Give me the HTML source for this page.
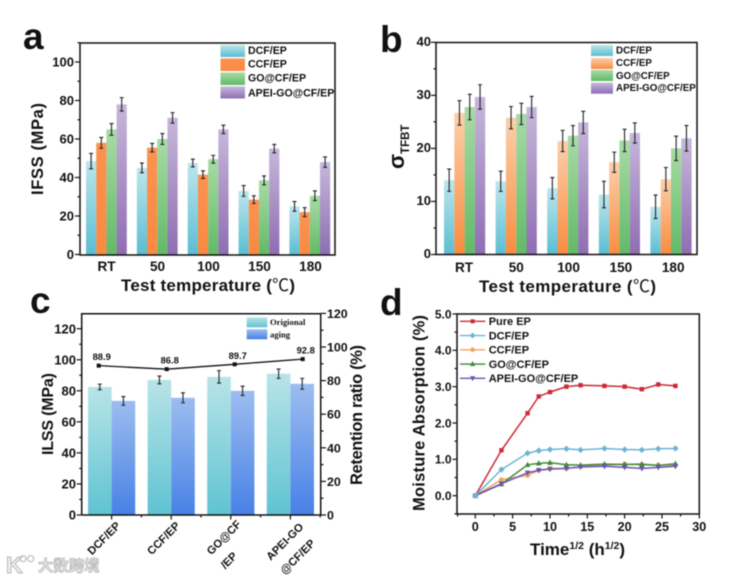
<!DOCTYPE html>
<html lang="en">
<head>
<meta charset="utf-8">
<title>Composite performance charts</title>
<style>
html,body{margin:0;padding:0;background:#fff;width:751px;height:580px;overflow:hidden}
svg{display:block;filter:blur(.5px)}
text{font-family:"Liberation Sans","Noto Sans CJK SC",sans-serif;font-weight:bold;fill:#111}
.frame{fill:none;stroke:#111;stroke-width:1.5}
.tick{stroke:#111;stroke-width:1.2}
.err{stroke:#22222b;stroke-width:1.1}
</style>
</head>
<body>
<svg id="figure" xmlns="http://www.w3.org/2000/svg" width="751" height="580" viewBox="0 0 751 580">
<defs>
<linearGradient id="gBlue" x1="0" y1="0" x2="0" y2="1"><stop offset="0" stop-color="#bde6ec"/><stop offset="1" stop-color="#5bbdd3"/></linearGradient>
<linearGradient id="gOrangeA" x1="0" y1="0" x2="0" y2="1"><stop offset="0" stop-color="#fb9350"/><stop offset="1" stop-color="#f98a42"/></linearGradient>
<linearGradient id="gOrangeB" x1="0" y1="0" x2="0" y2="1"><stop offset="0" stop-color="#fbd0ab"/><stop offset="1" stop-color="#f98c40"/></linearGradient>
<linearGradient id="gGreen" x1="0" y1="0" x2="0" y2="1"><stop offset="0" stop-color="#a8dba6"/><stop offset="1" stop-color="#62ba67"/></linearGradient>
<linearGradient id="gPurple" x1="0" y1="0" x2="0" y2="1"><stop offset="0" stop-color="#c6b8da"/><stop offset="1" stop-color="#8f6db2"/></linearGradient>
<linearGradient id="gTeal" x1="0" y1="0" x2="0" y2="1"><stop offset="0" stop-color="#b8e4e8"/><stop offset="1" stop-color="#5fc3d2"/></linearGradient>
<linearGradient id="gRoyal" x1="0" y1="0" x2="0" y2="1"><stop offset="0" stop-color="#9dbdf0"/><stop offset="1" stop-color="#4781e6"/></linearGradient>
</defs>

<g id="panel-a">
  <text x="23" y="49" font-size="37">a</text>
  <g id="a-marks"></g>
  <rect class="frame" x="80" y="43" width="255" height="212"/>
  <g id="a-axes"></g>
  <text transform="translate(43,195) rotate(-90)" font-size="16.5" textLength="92">IFSS (MPa)</text>
  <text x="121" y="291" font-size="17" textLength="174">Test temperature (<tspan font-weight="normal">℃</tspan>)</text>
  <g>
    <rect x="220.5" y="45" width="24.5" height="12" fill="url(#gBlue)"/>
    <rect x="220.5" y="58.5" width="24.5" height="12.5" fill="url(#gOrangeA)"/>
    <rect x="220.5" y="72.5" width="24.5" height="12.5" fill="url(#gGreen)"/>
    <rect x="220.5" y="86.5" width="24.5" height="12" fill="url(#gPurple)"/>
    <text x="248" y="54" font-size="10.6">DCF/EP</text>
    <text x="248" y="67.7" font-size="10.6">CCF/EP</text>
    <text x="248" y="81.7" font-size="10.6">GO@CF/EP</text>
    <text x="248" y="96.4" font-size="10.6">APEI-GO@CF/EP</text>
  </g>
</g>

<g id="panel-b">
  <text x="380" y="52" font-size="37">b</text>
  <g id="b-marks"></g>
  <rect class="frame" x="436" y="42.5" width="261" height="212"/>
  <g id="b-axes"></g>
  <text transform="translate(404,169) rotate(-90)" font-size="22">σ<tspan font-size="11.5" dy="5">TFBT</tspan></text>
  <text x="479" y="292" font-size="17" textLength="177">Test temperature (<tspan font-weight="normal">℃</tspan>)</text>
  <g>
    <rect x="591" y="45" width="22" height="11" fill="url(#gBlue)"/>
    <rect x="591" y="58" width="22" height="11" fill="url(#gOrangeB)"/>
    <rect x="591" y="70" width="22" height="11" fill="url(#gGreen)"/>
    <rect x="591" y="82.7" width="22" height="11" fill="url(#gPurple)"/>
    <text x="616" y="53.5" font-size="9.8">DCF/EP</text>
    <text x="616" y="66.2" font-size="9.8">CCF/EP</text>
    <text x="616" y="78.8" font-size="9.8">GO@CF/EP</text>
    <text x="616" y="91.2" font-size="9.8">APEI-GO@CF/EP</text>
  </g>
</g>

<g id="panel-c">
  <text x="30" y="313" font-size="37">c</text>
  <g id="c-marks"></g>
  <path class="frame" d="M81.7 515V313.7H320.7V515H81.7"/>
  <g id="c-axes"></g>
  <g id="c-line"></g>
  <text transform="translate(53,455) rotate(-90)" font-size="16" textLength="82">ILSS (MPa)</text>
  <text transform="translate(362,485) rotate(-90)" font-size="16.5" textLength="140">Retention ratio (%)</text>
  <g>
    <rect x="246.7" y="317.3" width="20.6" height="10" fill="url(#gTeal)"/>
    <rect x="246.7" y="329.3" width="20.6" height="10" fill="url(#gRoyal)"/>
    <text x="270" y="325" font-size="8.6" style="font-family:'Liberation Serif',serif">Origional</text>
    <text x="270" y="337.5" font-size="8.6" style="font-family:'Liberation Serif',serif">aging</text>
  </g>
</g>

<g id="panel-d">
  <text x="380" y="315" font-size="37">d</text>
  <rect class="frame" x="457" y="314" width="242.3" height="200"/>
  <g id="d-axes"></g>
  <g id="d-marks"></g>
  <text transform="translate(424.5,511) rotate(-90)" font-size="16.5" textLength="196">Moisture Absorption (%)</text>
  <text x="530" y="555" font-size="17">Time<tspan font-size="10.5" dy="-6">1/2</tspan><tspan dy="6"> (h</tspan><tspan font-size="10.5" dy="-6">1/2</tspan><tspan dy="6">)</tspan></text>
  <g id="d-legend"></g>
</g>

<g>
  <text x="6" y="573" font-size="23" style="fill:#f0f0f0;stroke:#b8b8b8;stroke-width:1">K</text>
  <circle cx="23" cy="558.7" r="3" fill="none" stroke="#bdbdbd" stroke-width="1.2"/>
  <circle cx="30.7" cy="558.7" r="3" fill="none" stroke="#bdbdbd" stroke-width="1.2"/>
  <text x="38" y="571" font-size="15.4" style="fill:#e6e6e6;stroke:#b5b5b5;stroke-width:.7">大数跨境</text>
</g>
</svg>

<script>
// Panel a: IFSS
const aCategories = ['RT', '50', '100', '150', '180'];
const aDcf = [48.5, 45, 47.5, 33, 25];
const aCcf = [58, 55.5, 41.5, 28.5, 22];
const aGo = [65, 60, 49.5, 38.5, 30.5];
const aApei = [78, 71, 65, 55, 48];
const aDcfErr = [4, 2.5, 2, 2.8, 2.5];
const aCcfErr = [2.8, 2.2, 2, 2, 2.3];
const aGoErr = [3, 2.8, 2, 2.3, 2.5];
const aApeiErr = [3.5, 2.7, 2.2, 2.2, 2.7];
const aTicks = [0, 20, 40, 60, 80, 100];

// Panel b: sigma TFBT
const bCategories = ['RT', '50', '100', '150', '180'];
const bDcf = [14, 13.8, 12.5, 11.3, 9];
const bCcf = [26.7, 25.8, 21.4, 17.4, 14.2];
const bGo = [27.8, 26.5, 22.4, 21.5, 20];
const bApei = [29.7, 27.8, 24.9, 22.9, 21.9];
const bDcfErr = [2.1, 1.9, 2, 2.5, 2.2];
const bCcfErr = [2.3, 2.1, 2, 1.9, 2.2];
const bGoErr = [2.4, 2, 1.9, 2.1, 2.3];
const bApeiErr = [2.3, 2, 2.1, 1.9, 2.4];
const bTicks = [0, 10, 20, 30, 40];

// Panel c: ILSS and retention
const cCategories = ['DCF/EP', 'CCF/EP', 'GO@CF\n/EP', 'APEI-GO\n@CF/EP'];
const cOriginal = [82.5, 87, 89, 91];
const cAging = [73.5, 75.5, 80, 84.5];
const cOriginalErr = [1.8, 2.5, 4, 3];
const cAgingErr = [2.8, 3.2, 3, 3.5];
const cRetention = [88.9, 86.8, 89.7, 92.8];
const cLeftTicks = [0, 20, 40, 60, 80, 100, 120];
const cRightTicks = [0, 20, 40, 60, 80, 100, 120];

// Panel d: moisture absorption
const dTime = [0, 3.5, 7, 8.5, 10, 12.2, 14.1, 17.3, 20, 22.3, 24.5, 26.8];
const dPure = [0, 1.25, 2.27, 2.73, 2.85, 3.0, 3.04, 3.02, 3.0, 2.93, 3.06, 3.02];
const dDcf = [0, 0.72, 1.17, 1.24, 1.27, 1.29, 1.26, 1.3, 1.27, 1.26, 1.29, 1.3];
const dCcf = [0, 0.44, 0.56, 0.7, 0.75, 0.75, 0.8, 0.84, 0.87, 0.85, 0.84, 0.84];
const dGo = [0, 0.32, 0.85, 0.89, 0.91, 0.85, 0.84, 0.87, 0.86, 0.87, 0.83, 0.88];
const dApei = [0, 0.33, 0.63, 0.7, 0.73, 0.75, 0.79, 0.81, 0.78, 0.75, 0.78, 0.81];
const dYTicks = [0, 1, 2, 3, 4, 5];
const dXTicks = [0, 5, 10, 15, 20, 25, 30];
const dSeriesNames = ['Pure EP', 'DCF/EP', 'CCF/EP', 'GO@CF/EP', 'APEI-GO@CF/EP'];

const NS = 'http://www.w3.org/2000/svg';
function make(tag, attrs, parent) {
  const el = document.createElementNS(NS, tag);
  for (const k in attrs) el.setAttribute(k, attrs[k]);
  parent.appendChild(el);
  return el;
}
function $(id) { return document.getElementById(id); }
function slug(s) { return String(s).toLowerCase().replace(/[^a-z0-9]+/g, '-').replace(/^-|-$/g, ''); }

function tickLine(parent, x1, y1, x2, y2) {
  const t = make('line', {class: 'tick', x1: x1, y1: y1, x2: x2, y2: y2}, parent);
  
  
}
function tickText(parent, str, x, y, size, anchor) {
  const t = make('text', {x: x, y: y, 'font-size': size, 'text-anchor': anchor}, parent);
  t.textContent = str;
  
  
}
function errorBar(parent, x, top, bottom, name) {
  const g = make('path', {class: 'err', fill: 'none',
    d: 'M' + (x - 2) + ' ' + top + 'H' + (x + 2) + 'M' + x + ' ' + top + 'V' + bottom + 'M' + (x - 2) + ' ' + bottom + 'H' + (x + 2)}, parent);
  
  
}
function bar(parent, x, w, y0, y, fill, name) {
  const r = make('rect', {x: x, y: y, width: w, height: y0 - y, fill: fill}, parent);
  
  
}

function groupedBars(marks, cats, series, errs, fills, names, yScale, start, step, w) {
  series.forEach(function (vals, s) {
    vals.forEach(function (v, i) {
      const x = start + i * step + s * w;
      bar(marks, x, w, yScale(0), yScale(v), fills[s], 'bar-' + names[s] + '-' + slug(cats[i]));
      errorBar(marks, x + w / 2, yScale(v + errs[s][i]), yScale(v - errs[s][i]), 'error-bar-' + names[s] + '-' + slug(cats[i]));
    });
  });
}
const barNames = ['dcf', 'ccf', 'go', 'apei'];

// ---- Panel a
const yA = v => 254.5 - v * 1.925;
groupedBars($('a-marks'), aCategories, [aDcf, aCcf, aGo, aApei], [aDcfErr, aCcfErr, aGoErr, aApeiErr],
  ['url(#gBlue)', 'url(#gOrangeA)', 'url(#gGreen)', 'url(#gPurple)'], barNames, yA, 86, 50.85, 10.2);
aTicks.forEach(function (v) {
  tickLine($('a-axes'), 75, yA(v), 80, yA(v));
  tickText($('a-axes'), v, 74, yA(v) + 4.7, 13, 'end');
  if (v < 100) tickLine($('a-axes'), 77.5, yA(v + 10), 80, yA(v + 10));
});
tickLine($('a-axes'), 77.5, yA(110), 80, yA(110));
aCategories.forEach(function (c, i) {
  tickText($('a-axes'), c, 106.5 + i * 51, 271, 13.6, 'middle');
});

// ---- Panel b
const yB = v => 254.5 - v * 5.305;
groupedBars($('b-marks'), bCategories, [bDcf, bCcf, bGo, bApei], [bDcfErr, bCcfErr, bGoErr, bApeiErr],
  ['url(#gBlue)', 'url(#gOrangeB)', 'url(#gGreen)', 'url(#gPurple)'], barNames, yB, 444, 51.6, 10.3);
bTicks.forEach(function (v) {
  tickLine($('b-axes'), 431, yB(v), 436, yB(v));
  tickText($('b-axes'), v, 431, yB(v) + 3.5, 13, 'end');
  if (v < 40) tickLine($('b-axes'), 433.5, yB(v + 5), 436, yB(v + 5));
});
bCategories.forEach(function (c, i) {
  tickText($('b-axes'), c, 464 + i * 52.3, 272, 13.6, 'middle');
});

// ---- Panel c
const yCL = v => 515 - v * 1.5525;
const yCR = v => 515 - v * 1.68;
const cCats = cCategories.map(c => c.replace('\n', ''));
groupedBars($('c-marks'), cCats, [cOriginal, cAging], [cOriginalErr, cAgingErr],
  ['url(#gTeal)', 'url(#gRoyal)'], ['original', 'aging'], yCL, 88, 59.6, 23.6);
const cxTick = i => 111.6 + i * 59.6;
const cxLine = i => 98.7 + i * 68;
cLeftTicks.forEach(function (v) {
  tickLine($('c-axes'), 76.7, yCL(v), 81.7, yCL(v));
  tickText($('c-axes'), v, 76, yCL(v) + 4.6, 13, 'end');
  if (v < 120) tickLine($('c-axes'), 79.2, yCL(v + 10), 81.7, yCL(v + 10));
});
cRightTicks.forEach(function (v) {
  tickLine($('c-axes'), 320.7, yCR(v), 326, yCR(v));
  tickText($('c-axes'), v, 327, yCR(v) + 4.5, 12.4, 'start');
  if (v < 120) tickLine($('c-axes'), 320.7, yCR(v + 10), 323.5, yCR(v + 10));
});
cCategories.forEach(function (c, i) {
  tickLine($('c-axes'), cxTick(i), 515, cxTick(i), 519.5);
  tickLine($('c-axes'), cxTick(i) + 29.8, 515, cxTick(i) + 29.8, 517.5);
  c.split('\n').forEach(function (part, n) {
    const bx = cxTick(i) - 19.6 + n * 14;
    const by = (i === 3 ? 561 : 555.5) + n * 14;
    const t = make('text', {transform: 'translate(' + bx + ',' + by + ') rotate(-45)', 'font-size': 11.2}, $('c-axes'));
    t.textContent = part;
    
    
  });
});
const retentionPath = make('path', {fill: 'none', stroke: '#111', 'stroke-width': 1.3,
  d: cRetention.map((v, i) => (i ? 'L' : 'M') + cxLine(i) + ' ' + yCR(v)).join('')}, $('c-line'));


cRetention.forEach(function (v, i) {
  const m = make('rect', {x: cxLine(i) - 2, y: yCR(v) - 2, width: 4, height: 4, fill: '#111'}, $('c-line'));
  
  
  const t = make('text', {x: cxLine(i) + 3, y: yCR(v) - 5.5, 'font-size': 9.4, 'text-anchor': 'middle'}, $('c-line'));
  t.textContent = v.toFixed(1);
  
  
});

// ---- Panel d
const xD = v => 475.3 + v * 7.467;
const yD = v => 495.7 - v * 36.35;
dYTicks.forEach(function (v) {
  tickLine($('d-axes'), 452.5, yD(v), 457, yD(v));
  tickText($('d-axes'), v.toFixed(1), 451.5, yD(v) + 4.3, 12, 'end');
  if (v < 5) tickLine($('d-axes'), 454.5, yD(v + 0.5), 457, yD(v + 0.5));
});
tickLine($('d-axes'), 454.5, yD(-0.5), 457, yD(-0.5));
dXTicks.forEach(function (v) {
  tickLine($('d-axes'), xD(v), 514, xD(v), 518.5);
  tickText($('d-axes'), v, xD(v), 531, 12.6, 'middle');
  if (v > 0) tickLine($('d-axes'), xD(v - 2.5), 514, xD(v - 2.5), 516.5);
});
tickLine($('d-axes'), xD(-2.5) + 1, 514, xD(-2.5) + 1, 516.5);

const dSeries = [dPure, dDcf, dCcf, dGo, dApei];
const dColors = ['#cc2a36', '#6cb4d8', '#f5a35f', '#3f8a3a', '#6a55b0'];
const dShapes = ['square', 'diamond', 'circle', 'up', 'down'];
function marker(parent, x, y, shape, color, r) {
  let el;
  if (shape === 'square') el = make('rect', {x: x - r, y: y - r, width: 2 * r, height: 2 * r, fill: color}, parent);
  else if (shape === 'circle') el = make('circle', {cx: x, cy: y, r: r + 0.3, fill: color}, parent);
  else if (shape === 'diamond') el = make('path', {d: 'M' + x + ' ' + (y - r - 1) + 'L' + (x + r + 1) + ' ' + y + 'L' + x + ' ' + (y + r + 1) + 'L' + (x - r - 1) + ' ' + y + 'Z', fill: color}, parent);
  else if (shape === 'up') el = make('path', {d: 'M' + x + ' ' + (y - r - 1) + 'L' + (x + r + 0.6) + ' ' + (y + r) + 'L' + (x - r - 0.6) + ' ' + (y + r) + 'Z', fill: color}, parent);
  else el = make('path', {d: 'M' + x + ' ' + (y + r + 1) + 'L' + (x + r + 0.6) + ' ' + (y - r) + 'L' + (x - r - 0.6) + ' ' + (y - r) + 'Z', fill: color}, parent);
  return el;
}
[0, 2, 3, 4, 1].forEach(function (s) {
  const vals = dSeries[s];
  const line = make('path', {fill: 'none', stroke: dColors[s], 'stroke-width': 1.5,
    d: vals.map((v, i) => (i ? 'L' : 'M') + xD(dTime[i]) + ' ' + yD(v)).join('')}, $('d-marks'));
  
  
  vals.forEach(function (v, i) {
    const m = marker($('d-marks'), xD(dTime[i]), yD(v), dShapes[s], dColors[s], 2.2);
    
    
  });
});
dSeriesNames.forEach(function (name, s) {
  const y = 321.3 + s * 14.25;
  const l = make('line', {x1: 460, x2: 485.3, y1: y, y2: y, stroke: dColors[s], 'stroke-width': 1.4}, $('d-legend'));
  
  
  const m = marker($('d-legend'), 472.6, y, dShapes[s], dColors[s], 2);
  
  
  const t = make('text', {x: 488.7, y: y + 3.9, 'font-size': 11}, $('d-legend'));
  t.textContent = name;
  
  
});
</script>
</body>
</html>
